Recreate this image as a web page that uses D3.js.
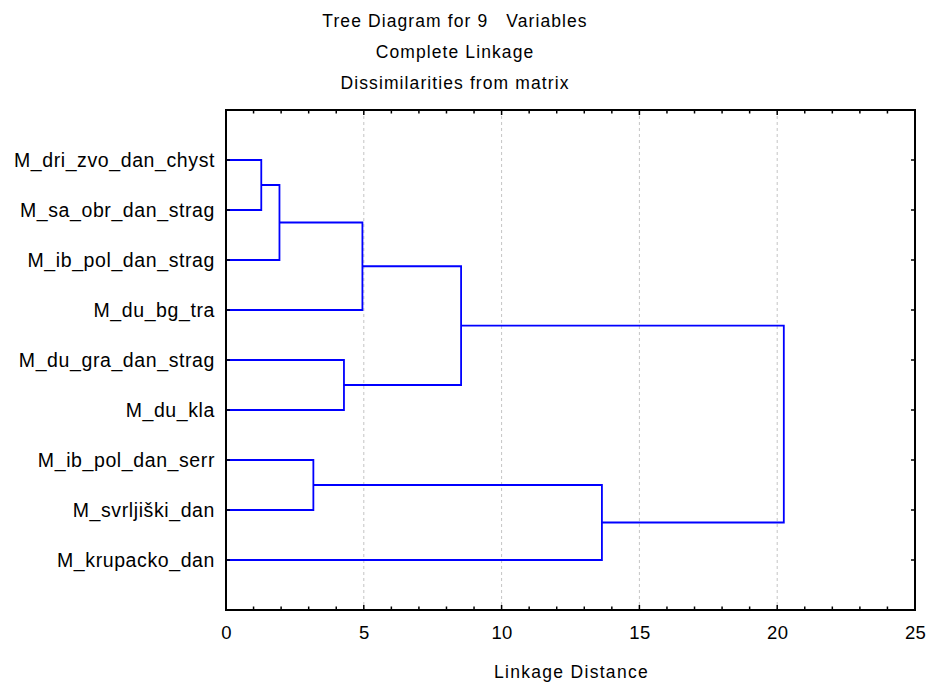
<!DOCTYPE html>
<html>
<head>
<meta charset="utf-8">
<script src="https://cdn.jsdelivr.net/npm/d3@7"></script>
<style>
  html, body { margin: 0; padding: 0; background: #fff; }
  text { font-family: Arial, "Liberation Sans", sans-serif; fill: #000; }
</style>
</head>
<body>
<svg id="chart" width="927" height="683"></svg>
<script>
// ---- data ----
const titleLines = ["Tree Diagram for 9\u00a0\u00a0\u00a0Variables", "Complete Linkage", "Dissimilarities from matrix"];
const xAxisTitle = "Linkage Distance";
const leafLabels = [
  "M_dri_zvo_dan_chyst",
  "M_sa_obr_dan_strag",
  "M_ib_pol_dan_strag",
  "M_du_bg_tra",
  "M_du_gra_dan_strag",
  "M_du_kla",
  "M_ib_pol_dan_serr",
  "M_svrljiški_dan",
  "M_krupacko_dan"
];
// merges: node ids 0..8 are leaves, merges create ids 9, 10, ...
const mergeA = [0, 9, 4, 10, 6, 12, 13, 14];
const mergeB = [1, 2, 5, 3, 7, 11, 8, 15];
const mergeHeight = [1.28, 1.94, 4.28, 4.95, 3.17, 8.53, 13.64, 20.24];
const xTicks = [0, 5, 10, 15, 20, 25];

// ---- layout ----
const svg = d3.select("#chart");
const mLeft = 226, mRight = 915, mTop = 110, mBottom = 610;
const x = d3.scaleLinear().domain([0, 25]).range([mLeft, mRight]);
const y = d3.scaleLinear().domain([0, leafLabels.length + 1]).range([mTop, mBottom]);

// gridlines
svg.append("g").selectAll("line").data(xTicks.filter(d => d > 0 && d < 25)).join("line")
  .attr("x1", d => x(d)).attr("x2", d => x(d))
  .attr("y1", mTop).attr("y2", mBottom)
  .attr("stroke", "#c4c4c4").attr("stroke-width", 1).attr("stroke-dasharray", "3,3");

// dendrogram
const nodes = leafLabels.map((l, i) => ({ y: y(i + 1), h: 0 }));
const g = svg.append("g").attr("fill", "none").attr("stroke", "#0000ff").attr("stroke-width", 1.8);
mergeA.forEach((a, k) => {
  const b = mergeB[k], h = mergeHeight[k];
  const A = nodes[a], B = nodes[b];
  const xh = x(h);
  g.append("path").attr("d",
    `M${x(A.h)},${A.y}H${xh}V${B.y}H${x(B.h)}`);
  nodes.push({ y: (A.y + B.y) / 2, h: h });
});

// frame
svg.append("rect").attr("x", mLeft).attr("y", mTop).attr("width", mRight - mLeft).attr("height", mBottom - mTop)
  .attr("fill", "none").attr("stroke", "#000").attr("stroke-width", 2);

// x ticks (minor every 1, major every 5) on bottom and top, inward
const minor = d3.range(0, 26);
const tk = svg.append("g").attr("stroke", "#000").attr("stroke-width", 1.5);
minor.forEach(v => {
  const len = v % 5 === 0 ? 5 : 3.5;
  tk.append("line").attr("x1", x(v)).attr("x2", x(v)).attr("y1", mBottom).attr("y2", mBottom - len);
  tk.append("line").attr("x1", x(v)).attr("x2", x(v)).attr("y1", mTop).attr("y2", mTop + len);
});
// y ticks at leaves, left and right, inward
leafLabels.forEach((l, i) => {
  tk.append("line").attr("x1", mLeft).attr("x2", mLeft + 4).attr("y1", y(i + 1)).attr("y2", y(i + 1));
  tk.append("line").attr("x1", mRight).attr("x2", mRight - 4).attr("y1", y(i + 1)).attr("y2", y(i + 1));
});

// x tick labels via axis
const axis = d3.axisBottom(x).tickValues(xTicks).tickSize(0).tickPadding(0).tickFormat(d3.format("d"));
const ax = svg.append("g").attr("transform", `translate(0,${mBottom})`).call(axis);
ax.select(".domain").remove();
ax.selectAll("text").attr("y", 28.5).attr("dy", null)
  .style("font-size", "18.5px").style("letter-spacing", "0.3px")
  .style("font-family", "Arial, 'Liberation Sans', sans-serif").attr("fill", "#000");

// leaf labels
svg.append("g").selectAll("text").data(leafLabels).join("text")
  .attr("x", 215).attr("y", (d, i) => y(i + 1) + 6.8)
  .attr("text-anchor", "end")
  .style("font-size", "19.5px").style("letter-spacing", "0.6px")
  .text(d => d);

// titles
svg.append("g").selectAll("text").data(titleLines).join("text")
  .attr("x", 455).attr("y", (d, i) => 27 + i * 31)
  .attr("text-anchor", "middle")
  .style("font-size", "17.5px").style("letter-spacing", "1.1px")
  .text(d => d);

// x axis title
svg.append("text").attr("x", (mLeft + mRight) / 2 + 1).attr("y", 677.5)
  .attr("text-anchor", "middle").style("font-size", "17.5px").style("letter-spacing", "1.3px")
  .text(xAxisTitle);
</script>
</body>
</html>
